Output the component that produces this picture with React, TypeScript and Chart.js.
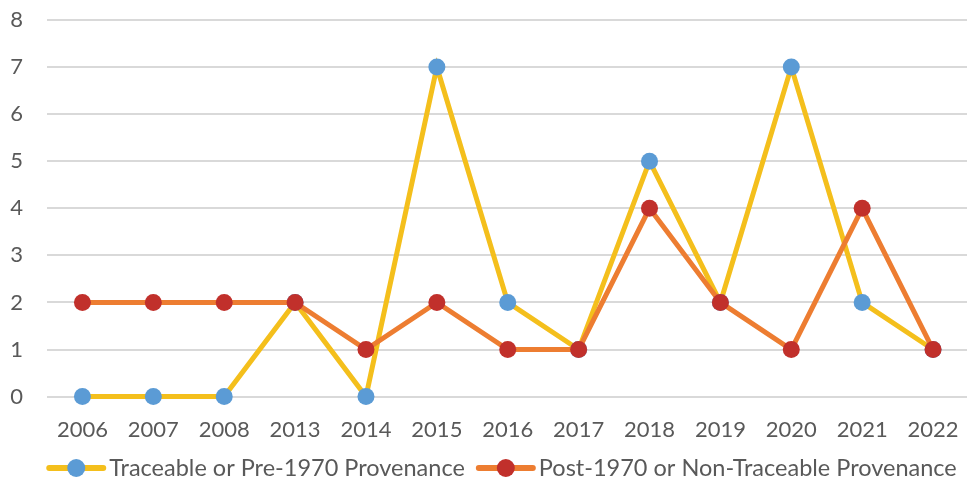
import React, { useEffect, useRef } from "react";
import { Chart, registerables } from "chart.js";

Chart.register(...registerables);

const categories = ["2006", "2007", "2008", "2013", "2014", "2015", "2016", "2017", "2018", "2019", "2020", "2021", "2022"];
const traceable = [0, 0, 0, 2, 0, 7, 2, 1, 5, 2, 7, 2, 1];
const postNonTraceable = [2, 2, 2, 2, 1, 2, 1, 1, 4, 2, 1, 4, 1];
const seriesNames = ["Traceable or Pre-1970 Provenance", "Post-1970 or Non-Traceable Provenance"];

const FONT = "Lato, 'Open Sans', sans-serif";
const TEXT = "#595959";
const COLORS = [
  { line: "#F4BF1C", dot: "#5B9BD5" },
  { line: "#ED7D31", dot: "#C1302B" },
];

const legendPlugin = {
  id: "customLegend",
  afterDraw(chart: any) {
    const ctx = chart.ctx as CanvasRenderingContext2D;
    const names: string[] = chart.data.datasets.map((d: any) => d.label);
    ctx.save();
    ctx.font = `23.5px ${FONT}`;
    const iconW = 60;
    const gapIconText = 3;
    const gapItems = 11;
    const widths = names.map((n) => iconW + gapIconText + ctx.measureText(n).width);
    const total = widths.reduce((a, b) => a + b, 0) + gapItems * (names.length - 1);
    let x = 501.5 - total / 2;
    const y = 468;
    names.forEach((n, i) => {
      ctx.strokeStyle = COLORS[i].line;
      ctx.lineWidth = 6;
      ctx.lineCap = "round";
      ctx.beginPath();
      ctx.moveTo(x + 3, y);
      ctx.lineTo(x + iconW - 3, y);
      ctx.stroke();
      ctx.fillStyle = COLORS[i].dot;
      ctx.beginPath();
      ctx.arc(x + iconW / 2, y, 9, 0, Math.PI * 2);
      ctx.fill();
      ctx.fillStyle = TEXT;
      ctx.textBaseline = "middle";
      ctx.textAlign = "left";
      ctx.fillText(n, x + iconW + gapIconText, y);
      x += widths[i] + gapItems;
    });
    ctx.restore();
  },
};

export default function App() {
  const ref = useRef<HTMLCanvasElement>(null);
  useEffect(() => {
    if (!ref.current) return;
    const chart = new Chart(ref.current, {
      type: "line",
      data: {
        labels: categories,
        datasets: [
          {
            label: seriesNames[0],
            data: traceable,
            order: 1,
            clip: false,
            borderColor: COLORS[0].line,
            backgroundColor: COLORS[0].dot,
            pointBackgroundColor: COLORS[0].dot,
            pointBorderColor: COLORS[0].dot,
            borderWidth: 5,
            pointRadius: 8.5,
            pointBorderWidth: 0,
            tension: 0,
          },
          {
            label: seriesNames[1],
            data: postNonTraceable,
            order: 0,
            clip: false,
            borderColor: COLORS[1].line,
            backgroundColor: COLORS[1].dot,
            pointBackgroundColor: COLORS[1].dot,
            pointBorderColor: COLORS[1].dot,
            borderWidth: 5,
            pointRadius: 8.5,
            pointBorderWidth: 0,
            tension: 0,
          },
        ],
      },
      options: {
        animation: false,
        responsive: false,
        maintainAspectRatio: false,
        layout: { padding: { left: 0, right: 0, top: 20, bottom: 42 } },
        plugins: {
          tooltip: { enabled: false },
          legend: { display: false },
        },
        scales: {
          x: {
            offset: true,
            grid: { display: false, offset: true },
            border: { display: false },
            ticks: { color: TEXT, font: { family: FONT, size: 22 }, padding: 12 },
          },
          y: {
            min: 0,
            max: 8,
            afterFit: (scale: any) => {
              scale.width = 47;
            },
            grid: { color: "#D9D9D9", lineWidth: 2, drawTicks: true, tickLength: 24, tickColor: "rgba(0,0,0,0)" },
            border: { display: false },
            ticks: { stepSize: 1, color: TEXT, font: { family: FONT, size: 22 }, padding: 0 },
          },
        },
      },
      plugins: [legendPlugin],
    });
    return () => chart.destroy();
  }, []);
  return (
    <div style={{ position: "fixed", left: 0, top: 0, width: 967, height: 497, overflow: "hidden", background: "#fff" }}>
      <canvas ref={ref} width={977} height={497} style={{ display: "block" }} />
    </div>
  );
}
